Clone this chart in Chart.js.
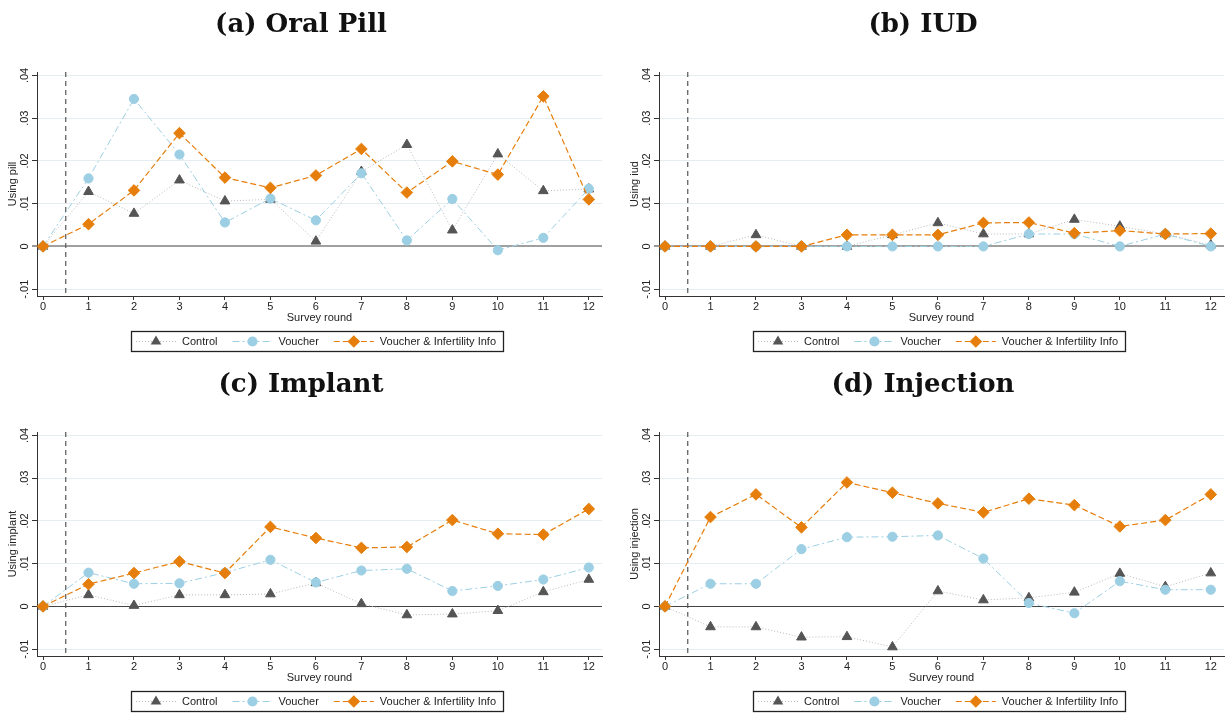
<!DOCTYPE html>
<html>
<head>
<meta charset="utf-8">
<script src="https://cdn.jsdelivr.net/npm/chart.js@4.4.1/dist/chart.umd.min.js"></script>
<style>
  html, body { margin: 0; padding: 0; background: #fff; }
  body { width: 1225px; height: 713px; overflow: hidden; position: relative; }
  canvas { position: absolute; }
</style>
</head>
<body>
<canvas id="pill" width="612" height="360" style="left:0;top:0"></canvas>
<canvas id="iud" width="612" height="360" style="left:622px;top:0"></canvas>
<canvas id="implant" width="612" height="360" style="left:0;top:360px"></canvas>
<canvas id="injection" width="612" height="360" style="left:622px;top:360px"></canvas>
<script>
// survey rounds and axis ticks
const rounds = [0, 1, 2, 3, 4, 5, 6, 7, 8, 9, 10, 11, 12];
const yTickValues = [-0.01, 0, 0.01, 0.02, 0.03, 0.04];
const yTickLabels = ['-.01', '0', '.01', '.02', '.03', '.04'];
const seriesNames = ['Control', 'Voucher', 'Voucher & Infertility Info'];

// (a) oral pill
const pillControl = [0, 0.0128, 0.0077, 0.0155, 0.0106, 0.0110, 0.0012, 0.0175, 0.0238, 0.0038, 0.0216, 0.0130, 0.0134];
const pillVoucher = [0, 0.0159, 0.0345, 0.0215, 0.0056, 0.0112, 0.0061, 0.0171, 0.0014, 0.0111, -0.0009, 0.0020, 0.0135];
const pillInfo = [0, 0.0052, 0.0131, 0.0265, 0.0161, 0.0137, 0.0166, 0.0228, 0.0126, 0.0199, 0.0168, 0.0351, 0.0110];

// (b) IUD
const iudControl = [0, 0, 0.0027, 0, 0, 0.0027, 0.0055, 0.0029, 0.0029, 0.0063, 0.0047, 0.0029, 0.0003];
const iudVoucher = [0, 0, 0, 0, 0, 0, 0, 0, 0.0029, 0.0029, 0, 0.0029, 0];
const iudInfo = [0, 0, 0, 0, 0.0027, 0.0027, 0.0027, 0.0055, 0.0056, 0.0031, 0.0037, 0.0029, 0.0030];

// (c) implant
const implantControl = [0, 0.0027, 0.0002, 0.0027, 0.0027, 0.0029, 0.0055, 0.0006, -0.0020, -0.0018, -0.0010, 0.0034, 0.0063];
const implantVoucher = [0, 0.0079, 0.0053, 0.0054, 0.0079, 0.0109, 0.0056, 0.0084, 0.0088, 0.0036, 0.0048, 0.0063, 0.0091];
const implantInfo = [0, 0.0052, 0.0078, 0.0105, 0.0078, 0.0186, 0.0160, 0.0137, 0.0139, 0.0202, 0.0170, 0.0168, 0.0228];

// (d) injection
const injectionControl = [0, -0.0048, -0.0048, -0.0072, -0.0071, -0.0095, 0.0036, 0.0015, 0.0020, 0.0033, 0.0077, 0.0046, 0.0078];
const injectionVoucher = [0, 0.0053, 0.0053, 0.0134, 0.0162, 0.0163, 0.0166, 0.0112, 0.0008, -0.0016, 0.0059, 0.0039, 0.0039];
const injectionInfo = [0, 0.0209, 0.0262, 0.0185, 0.0290, 0.0266, 0.0241, 0.0220, 0.0252, 0.0237, 0.0187, 0.0202, 0.0262];

const sansFont = '"Liberation Sans", Arial, Helvetica, sans-serif';
const colControl = '#555555';
const colControlLine = '#b9b9b9';
const colVoucher = '#9ccfe3';
const colInfo = '#e67e0c';

const seriesStyles = [
    { color: colControl, line: colControlLine, dash: [1, 2], shape: 'triangle', radius: 5.6, width: 1 },
    { color: colVoucher, line: colVoucher, dash: [7, 3, 2, 3], shape: 'circle', radius: 4.6, width: 1 },
    { color: colInfo, line: colInfo, dash: [6, 3], shape: 'rectRot', radius: 5.8, width: 1.2 }
];

function drawMarker(ctx, shape, x, y, r, color) {
    ctx.save();
    ctx.fillStyle = color;
    ctx.beginPath();
    if (shape === 'circle') {
        ctx.arc(x, y, r, 0, Math.PI * 2);
    } else if (shape === 'triangle') {
        for (let k = 0; k < 3; k++) {
            const a = k * 2 * Math.PI / 3;
            const px = x + Math.sin(a) * r, py = y - Math.cos(a) * r;
            if (k === 0) ctx.moveTo(px, py); else ctx.lineTo(px, py);
        }
    } else {
        ctx.moveTo(x - r, y); ctx.lineTo(x, y - r); ctx.lineTo(x + r, y); ctx.lineTo(x, y + r);
    }
    ctx.closePath();
    ctx.fill();
    ctx.restore();
}

// dashed vertical line at round 0.5 and the boxed legend under the axis
const panelDecor = {
    id: 'panelDecor',
    beforeDatasetsDraw(chart) {
        const ctx = chart.ctx, area = chart.chartArea;
        const x = chart.scales.x.getPixelForValue(0.5);
        ctx.save();
        ctx.strokeStyle = '#555';
        ctx.lineWidth = 1.2;
        ctx.setLineDash([5, 4]);
        ctx.beginPath();
        ctx.moveTo(x, area.top);
        ctx.lineTo(x, area.bottom);
        ctx.stroke();
        ctx.restore();
    },
    afterDraw(chart) {
        const ctx = chart.ctx, area = chart.chartArea;
        ctx.save();
        ctx.font = '11px ' + sansFont;
        const pad = 5, sample = 40, gapText = 6, gapItem = 15, padEnd = 7;
        const widths = seriesNames.map(n => ctx.measureText(n).width);
        let total = pad + padEnd;
        widths.forEach((w, i) => { total += sample + gapText + w + (i < widths.length - 1 ? gapItem : 0); });
        const boxTop = area.bottom + 35, boxH = 20;
        const boxLeft = Math.round(316.5 - total / 2);
        ctx.strokeStyle = '#222';
        ctx.lineWidth = 1.3;
        ctx.strokeRect(boxLeft + 0.5, boxTop + 0.5, total, boxH);
        const cy = boxTop + boxH / 2 + 0.5;
        let x = boxLeft + pad;
        seriesNames.forEach((name, i) => {
            const st = seriesStyles[i];
            ctx.save();
            ctx.strokeStyle = st.line;
            ctx.lineWidth = st.width;
            ctx.setLineDash(st.dash);
            ctx.beginPath();
            ctx.moveTo(x, cy);
            ctx.lineTo(x + sample, cy);
            ctx.stroke();
            ctx.restore();
            drawMarker(ctx, st.shape, x + sample / 2, cy, st.radius + 0.5, st.color);
            x += sample + gapText;
            ctx.fillStyle = '#222';
            ctx.textBaseline = 'middle';
            ctx.fillText(name, x, cy);
            x += widths[i] + gapItem;
        });
        ctx.restore();
    }
};

function makePanel(id, title, yTitle, control, voucher, info, zeroColor, zeroWidth) {
    const series = [control, voucher, info];
    const datasets = series.map((vals, i) => {
        const st = seriesStyles[i];
        return {
            label: seriesNames[i],
            data: rounds.map((r, k) => ({ x: r, y: vals[k] })),
            borderColor: st.line,
            borderWidth: st.width,
            borderDash: st.dash,
            backgroundColor: st.color,
            pointStyle: st.shape,
            pointRadius: st.radius,
            pointBorderWidth: 1,
            pointBorderColor: st.color,
            pointBackgroundColor: st.color,
            tension: 0,
            fill: false,
            clip: false,
            order: 3 - i
        };
    });

    new Chart(document.getElementById(id), {
        type: 'line',
        data: { datasets: datasets },
        options: {
            responsive: false,
            animation: false,
            events: [],
            layout: { padding: { left: 0, right: 10, top: 0, bottom: 34 } },
            plugins: {
                legend: { display: false },
                tooltip: { enabled: false },
                title: {
                    display: true,
                    text: title,
                    color: '#111',
                    font: { family: '"DejaVu Serif", "Liberation Serif", serif', size: 26, weight: 'bold', lineHeight: 1.2 },
                    padding: { top: 10, bottom: 30.8 }
                }
            },
            scales: {
                x: {
                    type: 'linear',
                    min: -0.132,
                    max: 12.29,
                    afterBuildTicks: s => { s.ticks = rounds.map(v => ({ value: v })); },
                    afterFit: s => { s.height = 30; },
                    grid: { drawOnChartArea: false, drawTicks: true, tickLength: 4, tickColor: '#333', tickWidth: 1 },
                    border: { color: '#333', width: 1 },
                    ticks: { color: '#222', padding: 0, maxRotation: 0, font: { family: sansFont, size: 11 } },
                    title: { display: true, text: 'Survey round', color: '#222', padding: { top: 0, bottom: 1 }, font: { family: sansFont, size: 11 } }
                },
                y: {
                    type: 'linear',
                    min: -0.0116,
                    max: 0.0408,
                    afterBuildTicks: s => { s.ticks = yTickValues.map(v => ({ value: v })); },
                    afterFit: s => { s.width = 37; },
                    grid: {
                        color: c => (c.tick && Math.abs(c.tick.value) < 1e-9) ? zeroColor : '#e4edf0',
                        lineWidth: c => (c.tick && Math.abs(c.tick.value) < 1e-9) ? zeroWidth : 1,
                        tickColor: '#333',
                        tickWidth: 1,
                        tickLength: 5
                    },
                    border: { color: '#333', width: 1 },
                    ticks: {
                        color: '#222',
                        padding: -2,
                        minRotation: 90,
                        maxRotation: 90,
                        crossAlign: 'center',
                        font: { family: sansFont, size: 11 },
                        callback: v => {
                            const k = yTickValues.findIndex(t => Math.abs(t - v) < 1e-9);
                            return k >= 0 ? yTickLabels[k] : '';
                        }
                    },
                    title: { display: true, text: yTitle, color: '#222', padding: { top: 6, bottom: 0 }, font: { family: sansFont, size: 11 } }
                }
            }
        },
        plugins: [panelDecor]
    });
}

makePanel('pill', '(a) Oral Pill', 'Using pill', pillControl, pillVoucher, pillInfo, '#a0a0a0', 2);
makePanel('iud', '(b) IUD', 'Using iud', iudControl, iudVoucher, iudInfo, '#a0a0a0', 2);
makePanel('implant', '(c) Implant', 'Using implant', implantControl, implantVoucher, implantInfo, '#444444', 1);
makePanel('injection', '(d) Injection', 'Using injection', injectionControl, injectionVoucher, injectionInfo, '#444444', 1);
</script>
</body>
</html>
